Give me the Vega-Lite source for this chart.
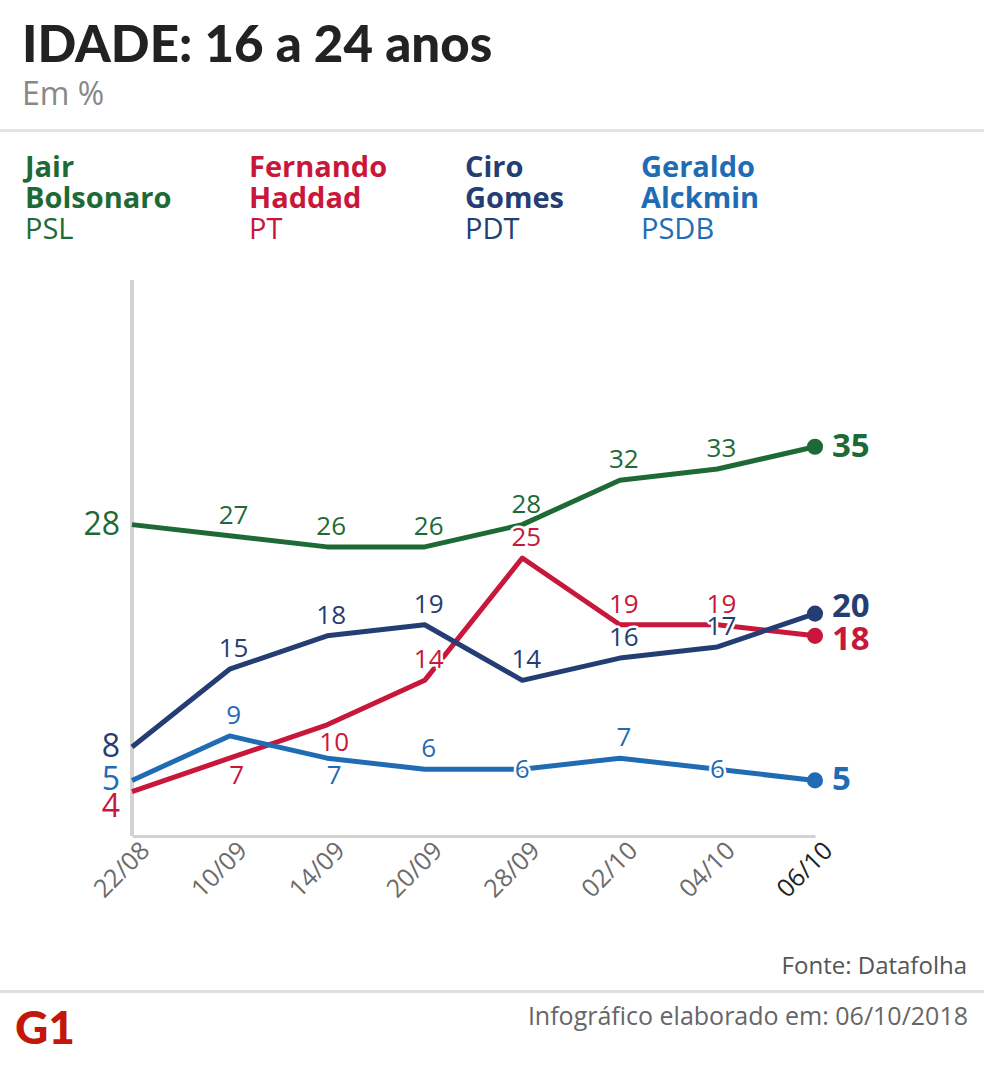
{
  "$schema": "https://vega.github.io/schema/vega-lite/v6.json",
  "padding": {"left": 0, "top": 21, "right": 0, "bottom": 0},
  "background": "white",
  "config": {"view": {"stroke": null}, "font": "Open Sans"},
  "title": {
    "text": "IDADE: 16 a 24 anos",
    "subtitle": "Em %",
    "anchor": "start",
    "frame": "group",
    "dx": 22,
    "offset": 17,
    "font": "Lato",
    "fontSize": 51,
    "fontWeight": 900,
    "color": "#222222",
    "subtitleFont": "Open Sans",
    "subtitleFontSize": 32,
    "subtitleColor": "#888888",
    "subtitlePadding": 7
  },
  "datasets": {
    "pesquisas": [
      {"pesquisa": "22/08", "candidato": "Jair Bolsonaro", "valor": 28},
      {"pesquisa": "10/09", "candidato": "Jair Bolsonaro", "valor": 27},
      {"pesquisa": "14/09", "candidato": "Jair Bolsonaro", "valor": 26},
      {"pesquisa": "20/09", "candidato": "Jair Bolsonaro", "valor": 26},
      {"pesquisa": "28/09", "candidato": "Jair Bolsonaro", "valor": 28},
      {"pesquisa": "02/10", "candidato": "Jair Bolsonaro", "valor": 32},
      {"pesquisa": "04/10", "candidato": "Jair Bolsonaro", "valor": 33},
      {"pesquisa": "06/10", "candidato": "Jair Bolsonaro", "valor": 35},
      {"pesquisa": "22/08", "candidato": "Fernando Haddad", "valor": 4},
      {"pesquisa": "10/09", "candidato": "Fernando Haddad", "valor": 7},
      {"pesquisa": "14/09", "candidato": "Fernando Haddad", "valor": 10},
      {"pesquisa": "20/09", "candidato": "Fernando Haddad", "valor": 14},
      {"pesquisa": "28/09", "candidato": "Fernando Haddad", "valor": 25},
      {"pesquisa": "02/10", "candidato": "Fernando Haddad", "valor": 19},
      {"pesquisa": "04/10", "candidato": "Fernando Haddad", "valor": 19},
      {"pesquisa": "06/10", "candidato": "Fernando Haddad", "valor": 18},
      {"pesquisa": "22/08", "candidato": "Ciro Gomes", "valor": 8},
      {"pesquisa": "10/09", "candidato": "Ciro Gomes", "valor": 15},
      {"pesquisa": "14/09", "candidato": "Ciro Gomes", "valor": 18},
      {"pesquisa": "20/09", "candidato": "Ciro Gomes", "valor": 19},
      {"pesquisa": "28/09", "candidato": "Ciro Gomes", "valor": 14},
      {"pesquisa": "02/10", "candidato": "Ciro Gomes", "valor": 16},
      {"pesquisa": "04/10", "candidato": "Ciro Gomes", "valor": 17},
      {"pesquisa": "06/10", "candidato": "Ciro Gomes", "valor": 20},
      {"pesquisa": "22/08", "candidato": "Geraldo Alckmin", "valor": 5},
      {"pesquisa": "10/09", "candidato": "Geraldo Alckmin", "valor": 9},
      {"pesquisa": "14/09", "candidato": "Geraldo Alckmin", "valor": 7},
      {"pesquisa": "20/09", "candidato": "Geraldo Alckmin", "valor": 6},
      {"pesquisa": "28/09", "candidato": "Geraldo Alckmin", "valor": 6},
      {"pesquisa": "02/10", "candidato": "Geraldo Alckmin", "valor": 7},
      {"pesquisa": "04/10", "candidato": "Geraldo Alckmin", "valor": 6},
      {"pesquisa": "06/10", "candidato": "Geraldo Alckmin", "valor": 5}
    ]
  },
  "bounds": "flush",
  "spacing": 148,
  "vconcat": [
    {
      "width": 984,
      "height": 3,
      "data": {"values": [{"divisor": "topo"}]},
      "mark": {"type": "rect", "color": "#e4e4e4"},
      "encoding": {}
    },
    {
      "bounds": "flush",
      "spacing": 154,
      "vconcat": [
        {
          "width": 984,
          "height": 556,
          "data": {"name": "pesquisas"},
          "title": {
            "text": "Fonte: Datafolha",
            "orient": "bottom",
            "anchor": "end",
            "frame": "group",
            "dx": -17,
            "offset": 53,
            "font": "Open Sans",
            "fontSize": 24,
            "fontWeight": "normal",
            "color": "#555555"
          },
          "encoding": {
            "x": {
              "field": "pesquisa",
              "type": "ordinal",
              "scale": {
                "type": "point",
                "domain": ["22/08", "10/09", "14/09", "20/09", "28/09", "02/10", "04/10", "06/10"],
                "range": [132, 815],
                "padding": 0
              },
              "axis": {
                "title": null,
                "ticks": false,
                "domainColor": "#d2d2d2",
                "domainWidth": 3,
                "labelAngle": -45,
                "labelAlign": "right",
                "labelBaseline": "middle",
                "labelFont": "Open Sans",
                "labelFontSize": 25,
                "labelPadding": 10,
                "labelOffset": 13,
                "labelColor": {"condition": {"test": "datum.value == '06/10'", "value": "#222222"}, "value": "#6b6b6b"}
              }
            },
            "y": {
              "field": "valor",
              "type": "quantitative",
              "scale": {"domain": [0, 50], "nice": false, "zero": true},
              "axis": null
            }
          },
          "layer": [
            {
              "mark": {"type": "rule", "color": "#d2d2d2", "strokeWidth": 3},
              "encoding": {"x": {"datum": "22/08", "type": "ordinal"}, "y": null}
            },
            {
              "mark": {"type": "line", "strokeWidth": 5, "strokeJoin": "round"},
              "encoding": {
                "color": {
                  "field": "candidato",
                  "type": "nominal",
                  "scale": {
                    "domain": ["Jair Bolsonaro", "Fernando Haddad", "Ciro Gomes", "Geraldo Alckmin", "PSL", "PT", "PDT", "PSDB"],
                    "range": ["#1e6a37", "#c8173a", "#243e73", "#1f6cb5", "#1e6a37", "#c8173a", "#243e73", "#1f6cb5"]
                  },
                  "legend": {
                    "orient": "none",
                    "legendX": 26,
                    "legendY": 10,
                    "direction": "horizontal",
                    "columns": 4,
                    "title": null,
                    "gridAlign": "each",
                    "columnPadding": 77,
                    "rowPadding": 0,
                    "padding": 0,
                    "labelExpr": "split(datum.label, ' ')",
                    "labelFont": "Open Sans",
                    "labelFontSize": 29,
                    "labelLineHeight": 33,
                    "labelBaseline": "top",
                    "labelLimit": 400,
                    "labelOffset": -30,
                    "symbolSize": 0,
                    "symbolOpacity": 0,
                    "symbolStrokeWidth": 0,
                    "encode": {
                      "labels": {
                        "update": {
                          "fill": {"scale": "color", "field": "value"},
                          "fontWeight": {"signal": "indexof(['PSL','PT','PDT','PSDB'], datum.value) >= 0 ? 'normal' : 'bold'"},
                          "dy": {"signal": "indexof(['PSL','PT','PDT','PSDB'], datum.value) >= 0 ? -13 : 0"}
                        }
                      }
                    }
                  }
                }
              }
            },
            {
              "transform": [{"filter": "datum.pesquisa == '06/10'"}],
              "mark": {"type": "circle", "size": 260, "opacity": 1},
              "encoding": {"color": {"field": "candidato", "type": "nominal"}}
            },
            {
              "transform": [{"filter": "datum.pesquisa == '06/10' && (datum.candidato == 'Jair Bolsonaro' || datum.candidato == 'Geraldo Alckmin')"}],
              "mark": {"type": "text", "align": "left", "baseline": "middle", "dx": 17, "font": "Open Sans", "fontSize": 33, "fontWeight": "bold"},
              "encoding": {"text": {"field": "valor"}, "color": {"field": "candidato", "type": "nominal"}}
            },
            {
              "transform": [{"filter": "datum.pesquisa == '06/10' && datum.candidato == 'Ciro Gomes'"}],
              "mark": {"type": "text", "align": "left", "baseline": "middle", "dx": 17, "dy": -7, "font": "Open Sans", "fontSize": 33, "fontWeight": "bold"},
              "encoding": {"text": {"field": "valor"}, "color": {"field": "candidato", "type": "nominal"}}
            },
            {
              "transform": [{"filter": "datum.pesquisa == '06/10' && datum.candidato == 'Fernando Haddad'"}],
              "mark": {"type": "text", "align": "left", "baseline": "middle", "dx": 17, "dy": 4, "font": "Open Sans", "fontSize": 33, "fontWeight": "bold"},
              "encoding": {"text": {"field": "valor"}, "color": {"field": "candidato", "type": "nominal"}}
            },
            {
              "transform": [{"filter": "datum.pesquisa == '22/08' && datum.candidato != 'Fernando Haddad'"}],
              "mark": {"type": "text", "align": "right", "baseline": "middle", "dx": -12, "font": "Open Sans", "fontSize": 32},
              "encoding": {"text": {"field": "valor"}, "color": {"field": "candidato", "type": "nominal"}}
            },
            {
              "transform": [{"filter": "datum.pesquisa == '22/08' && datum.candidato == 'Fernando Haddad'"}],
              "mark": {"type": "text", "align": "right", "baseline": "middle", "dx": -12, "dy": 15, "font": "Open Sans", "fontSize": 32},
              "encoding": {"text": {"field": "valor"}, "color": {"field": "candidato", "type": "nominal"}}
            },
            {
              "transform": [
                {"filter": "datum.pesquisa != '22/08' && datum.pesquisa != '06/10'"},
                {"filter": "!((datum.candidato == 'Fernando Haddad' && (datum.pesquisa == '10/09' || datum.pesquisa == '14/09')) || (datum.candidato == 'Geraldo Alckmin' && (datum.pesquisa == '14/09' || datum.pesquisa == '28/09' || datum.pesquisa == '04/10')))"}
              ],
              "encoding": {"text": {"field": "valor"}},
              "layer": [
                {"mark": {"type": "text", "align": "center", "baseline": "middle", "dx": 4, "dy": -20, "font": "Open Sans", "fontSize": 26, "fill": "white", "stroke": "white", "strokeWidth": 5, "strokeJoin": "round"}},
                {"mark": {"type": "text", "align": "center", "baseline": "middle", "dx": 4, "dy": -20, "font": "Open Sans", "fontSize": 26}, "encoding": {"color": {"field": "candidato", "type": "nominal"}}}
              ]
            },
            {
              "transform": [
                {"filter": "(datum.candidato == 'Fernando Haddad' && (datum.pesquisa == '10/09' || datum.pesquisa == '14/09')) || (datum.candidato == 'Geraldo Alckmin' && datum.pesquisa == '14/09')"}
              ],
              "encoding": {"text": {"field": "valor"}},
              "layer": [
                {"mark": {"type": "text", "align": "center", "baseline": "middle", "dx": 7, "dy": 18, "font": "Open Sans", "fontSize": 26, "fill": "white", "stroke": "white", "strokeWidth": 5, "strokeJoin": "round"}},
                {"mark": {"type": "text", "align": "center", "baseline": "middle", "dx": 7, "dy": 18, "font": "Open Sans", "fontSize": 26}, "encoding": {"color": {"field": "candidato", "type": "nominal"}}}
              ]
            },
            {
              "transform": [
                {"filter": "datum.candidato == 'Geraldo Alckmin' && (datum.pesquisa == '28/09' || datum.pesquisa == '04/10')"}
              ],
              "encoding": {"text": {"field": "valor"}},
              "layer": [
                {"mark": {"type": "text", "align": "center", "baseline": "middle", "dy": 1, "font": "Open Sans", "fontSize": 26, "fill": "white", "stroke": "white", "strokeWidth": 5, "strokeJoin": "round"}},
                {"mark": {"type": "text", "align": "center", "baseline": "middle", "dy": 1, "font": "Open Sans", "fontSize": 26}, "encoding": {"color": {"field": "candidato", "type": "nominal"}}}
              ]
            }
          ]
        },
        {
          "bounds": "flush",
          "spacing": 0,
          "vconcat": [
            {
              "width": 984,
              "height": 3,
              "data": {"values": [{"divisor": "rodape"}]},
              "mark": {"type": "rect", "color": "#e0e0e0"},
              "encoding": {}
            },
            {
              "width": 984,
              "height": 74,
              "data": {"values": [{"texto": "G1"}, {"texto": "Infográfico elaborado em: 06/10/2018"}]},
              "encoding": {
                "x": {
                  "field": "texto",
                  "type": "nominal",
                  "scale": {"type": "point", "domain": ["G1", "Infográfico elaborado em: 06/10/2018"], "range": [15, 968], "padding": 0},
                  "axis": null
                },
                "text": {"field": "texto"}
              },
              "layer": [
                {
                  "transform": [{"filter": "datum.texto == 'G1'"}],
                  "mark": {"type": "text", "align": "left", "baseline": "middle", "font": "Lato", "fontSize": 46, "fontWeight": 900, "color": "#c4170c"}
                },
                {
                  "transform": [{"filter": "datum.texto != 'G1'"}],
                  "mark": {"type": "text", "align": "right", "baseline": "middle", "dy": -13, "font": "Open Sans", "fontSize": 25, "color": "#666666"}
                }
              ]
            }
          ]
        }
      ]
    }
  ]
}
